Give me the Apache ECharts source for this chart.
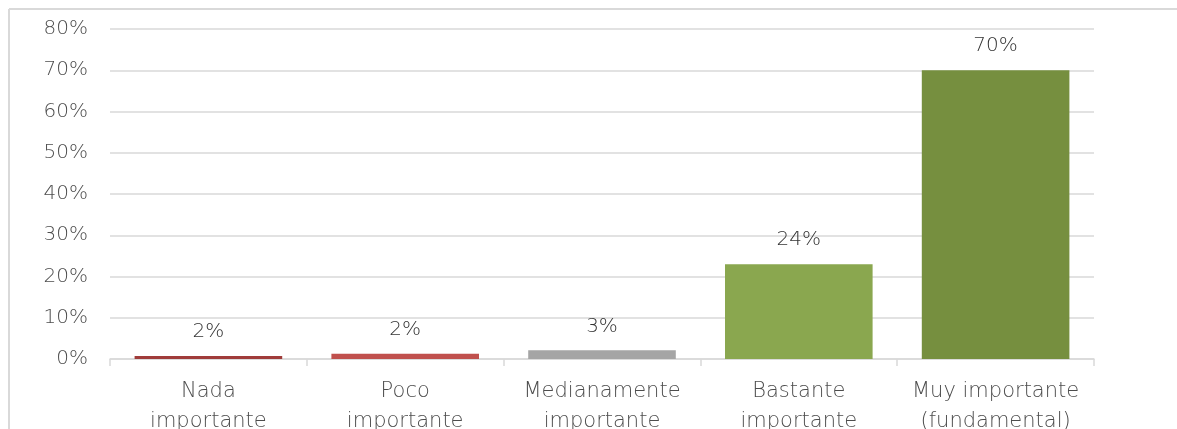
<!DOCTYPE html>
<html>
<head>
<meta charset="utf-8">
<script src="https://cdn.jsdelivr.net/npm/echarts@6/dist/echarts.min.js"></script>
<style>
  html, body { margin: 0; padding: 0; background: #fff; }
  #chart { width: 1177px; height: 429px; }
</style>
</head>
<body>
<div id="chart"></div>
<script>
// datos
const categorias = ['Nada\nimportante', 'Poco\nimportante', 'Medianamente\nimportante', 'Bastante\nimportante', 'Muy importante\n(fundamental)']
const valores = [0.7, 1.3, 2.1, 23, 70]
const etiquetas = ['2%', '2%', '3%', '24%', '70%']
const colores = ['#a03c3a', '#c0504d', '#a5a5a5', '#8aa74f', '#768f3f']
const ticksY = [0, 10, 20, 30, 40, 50, 60, 70, 80]

const fuente = 'DejaVu Sans'

var myChart = echarts.init(document.getElementById('chart'))
myChart.setOption({
  animation: false,
  textStyle: { fontFamily: fuente },
  graphic: [
    {
      type: 'line',
      shape: { x1: 9, y1: 9, x2: 1177, y2: 9 },
      style: { stroke: '#d9d9d9', lineWidth: 2 },
      silent: true
    },
    {
      type: 'line',
      shape: { x1: 9, y1: 9, x2: 9, y2: 429 },
      style: { stroke: '#d9d9d9', lineWidth: 2 },
      silent: true
    }
  ],
  grid: {
    left: 110,
    right: 83,
    top: 29,
    bottom: 70,
    outerBoundsMode: 'none'
  },
  xAxis: {
    type: 'category',
    data: categorias,
    axisLine: {
      show: true,
      lineStyle: { color: '#d9d9d9', width: 1.5 }
    },
    axisTick: {
      show: true,
      length: 7,
      lineStyle: { color: '#d9d9d9', width: 1.5 }
    },
    axisLabel: {
      color: '#4d4d4d',
      fontSize: 21,
      fontWeight: 200,
      lineHeight: 30,
      margin: 18,
      interval: 0
    }
  },
  yAxis: {
    type: 'value',
    min: ticksY[0],
    max: ticksY[ticksY.length - 1],
    interval: 10,
    axisLine: { show: false },
    axisTick: { show: false },
    splitLine: {
      lineStyle: { color: '#d9d9d9', width: 1.5 }
    },
    axisLabel: {
      color: '#4d4d4d',
      fontSize: 20,
      fontWeight: 200,
      margin: 22,
      formatter: '{value}%'
    }
  },
  series: [
    {
      type: 'bar',
      barCategoryGap: '25%',
      data: valores.map((v, i) => ({
        value: v,
        itemStyle: { color: colores[i] }
      })),
      label: {
        show: true,
        position: 'top',
        distance: 14,
        color: '#333333',
        fontSize: 20,
        fontWeight: 200,
        formatter: p => etiquetas[p.dataIndex]
      }
    }
  ]
})
</script>
</body>
</html>
